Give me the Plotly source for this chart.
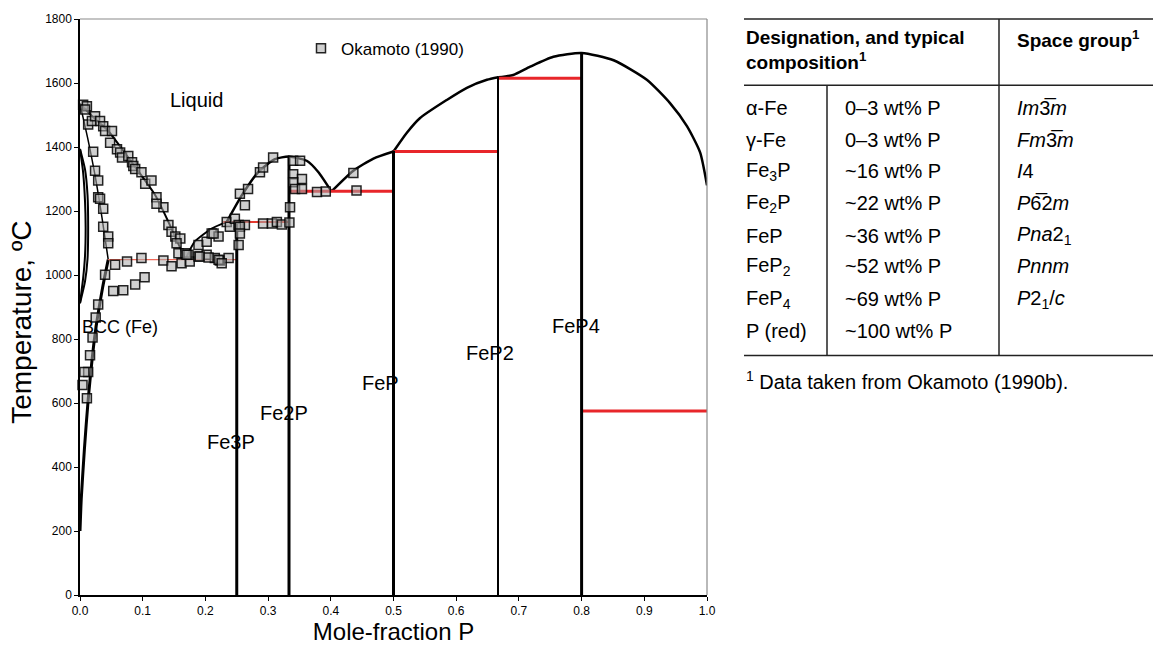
import plotly.graph_objects as go

# ---------------- phase-boundary data (mole fraction P, temperature in C) ----------------
liq_fe_x = [0.0, 0.02, 0.045, 0.0825, 0.12, 0.146, 0.168]
liq_fe_t = [1535, 1495, 1450, 1352, 1249, 1145, 1048]

liq_fe3p_x = [0.168, 0.183, 0.21, 0.234]
liq_fe3p_t = [1048, 1104, 1145, 1166]

liq_fe2p_x = [0.234, 0.258, 0.284, 0.311, 0.333, 0.3615, 0.38, 0.401]
liq_fe2p_t = [1166, 1249, 1321, 1362, 1370, 1357, 1322, 1261]

liq_fep_x = [0.401, 0.436, 0.468, 0.5]
liq_fep_t = [1261, 1326, 1364, 1386]

liq_fep2_x = [0.5, 0.521, 0.542, 0.585, 0.617, 0.649, 0.667]
liq_fep2_t = [1386, 1444, 1490, 1547, 1585, 1610, 1618]

liq_p_x = [0.667, 0.691, 0.718, 0.755, 0.8, 0.851, 0.904, 0.941, 0.968, 0.989, 1.0]
liq_p_t = [1618, 1625, 1651, 1682, 1694, 1671, 1610, 1537, 1465, 1383, 1280]

solidus_x = [0.0, 0.012, 0.024, 0.035, 0.045]
solidus_t = [1535, 1430, 1311, 1180, 1048]

solvus_x = [0.045, 0.036, 0.024, 0.013, 0.007, 0.002, 0.0]
solvus_t = [1048, 960, 815, 609, 455, 300, 200]

gamma_out_x = [0.0, 0.008, 0.012, 0.013, 0.012, 0.008, 0.0]
gamma_out_t = [1394, 1330, 1250, 1150, 1050, 980, 912]
gamma_in_x = [0.0, 0.005, 0.008, 0.009, 0.008, 0.005, 0.0]
gamma_in_t = [1394, 1320, 1230, 1150, 1060, 990, 912]

# compounds: composition and top of the vertical line
compound_x = [0.25, 1 / 3, 0.5, 2 / 3, 0.8]
compound_top = [1166, 1370, 1388, 1620, 1694]
compound_w = [3, 3, 3, 2, 3]

# invariant reactions: x-start, x-end, temperature
inv_x0 = [0.045, 0.228, 1 / 3, 0.5, 2 / 3, 0.8]
inv_x1 = [0.25, 1 / 3, 0.5, 2 / 3, 0.8, 1.0]
inv_t = [1048, 1166, 1262, 1386, 1615, 575]
inv_w = [1.3, 2, 3, 3, 3, 3]
inv_c = ["#ef6a5a", "#e43a30", "#e8262a", "#e8262a", "#e8262a", "#e8262a"]

# experimental points, Okamoto (1990)
oka_x = [0.005, 0.011, 0.008, 0.013, 0.019, 0.024, 0.032, 0.037, 0.040, 0.051, 0.048, 0.059,
         0.064, 0.067, 0.077, 0.083, 0.085, 0.088, 0.098, 0.104, 0.114, 0.122, 0.133, 0.122,
         0.141, 0.146, 0.152, 0.160, 0.154, 0.157, 0.168,
         0.021, 0.024, 0.029, 0.029, 0.032, 0.037, 0.037, 0.045, 0.045,
         0.056, 0.075, 0.098, 0.133, 0.146, 0.162, 0.175, 0.189, 0.202, 0.215, 0.223, 0.237,
         0.040, 0.053, 0.069, 0.088, 0.103, 0.029, 0.025, 0.020, 0.016, 0.013, 0.007, 0.004, 0.011,
         0.173, 0.189, 0.202, 0.210, 0.221, 0.234, 0.239, 0.247, 0.253, 0.253, 0.263, 0.255,
         0.263, 0.268, 0.287, 0.292, 0.308, 0.292, 0.306,
         0.340, 0.351, 0.340, 0.354, 0.340, 0.343, 0.354, 0.335, 0.378, 0.392, 0.436, 0.441,
         0.255, 0.255, 0.314, 0.322, 0.334, 0.213, 0.191, 0.205, 0.221, 0.226, 0.170]
oka_t = [1532, 1527, 1517, 1470, 1481, 1496, 1481, 1465, 1450, 1450, 1413, 1393,
         1383, 1367, 1372, 1352, 1341, 1331, 1321, 1285, 1295, 1243, 1212, 1223,
         1156, 1135, 1120, 1114, 1099, 1068, 1068,
         1385, 1326, 1295, 1243, 1238, 1207, 1151, 1120, 1099,
         1032, 1042, 1053, 1045, 1027, 1037, 1042, 1058, 1063, 1053, 1045, 1053,
         1001, 950, 952, 970, 993, 908, 867, 805, 749, 697, 697, 656, 615,
         1063, 1094, 1104, 1130, 1120, 1166, 1151, 1176, 1156, 1094, 1156, 1254,
         1218, 1269, 1321, 1336, 1367, 1161, 1161,
         1357, 1357, 1315, 1300, 1290, 1269, 1269, 1212, 1259, 1261, 1319, 1264,
         1151, 1130, 1166, 1158, 1164, 1130, 1058, 1055, 1048, 1037, 1063]

# phase labels
phase_names = ["Liquid", "BCC (Fe)", "Fe3P", "Fe2P", "FeP", "FeP2", "FeP4"]
phase_x = [0.185, 0.0, 0.2416, 0.326, 0.479, 0.654, 0.791]
phase_t = [1547, 838, 479, 569, 662, 756, 841]

# table of phases
designations = ["α-Fe", "γ-Fe", "Fe<sub>3</sub>P", "Fe<sub>2</sub>P", "FeP",
                "FeP<sub>2</sub>", "FeP<sub>4</sub>", "P (red)"]
compositions = ["0–3 wt% P", "0–3 wt% P", "~16 wt% P", "~22 wt% P", "~36 wt% P",
                "~52 wt% P", "~69 wt% P", "~100 wt% P"]
space_groups = ["<i>Im</i>3\u0305<i>m</i>", "<i>Fm</i>3\u0305<i>m</i>", "<i>I</i>4",
                "<i>P</i>6\u03052<i>m</i>", "<i>Pna</i>2<sub>1</sub>", "<i>Pnnm</i>",
                "<i>P</i>2<sub>1</sub>/<i>c</i>", ""]

FONT = "Arial, Liberation Sans, sans-serif"
W, H = 1153, 653
ML, MR, MT, MB = 80, 446, 15, 56


def px(X):
    return (X - ML) / (W - ML - MR)


def py(Y):
    return (H - MB - Y) / (H - MT - MB)


fig = go.Figure()

for xs, ts, w in [(liq_fe_x, liq_fe_t, 2), (liq_fe3p_x, liq_fe3p_t, 2), (liq_fe2p_x, liq_fe2p_t, 2.5),
                  (liq_fep_x, liq_fep_t, 2.5), (liq_fep2_x, liq_fep2_t, 2.5), (liq_p_x, liq_p_t, 2.5),
                  (solidus_x, solidus_t, 1.5), (solvus_x, solvus_t, 3),
                  (gamma_out_x, gamma_out_t, 2), (gamma_in_x, gamma_in_t, 2)]:
    fig.add_trace(go.Scatter(x=xs, y=ts, mode="lines",
                             line=dict(color="black", width=w, shape="spline", smoothing=0.6),
                             showlegend=False, hoverinfo="skip", cliponaxis=False))

for x0, x1, t, w, c in zip(inv_x0, inv_x1, inv_t, inv_w, inv_c):
    fig.add_trace(go.Scatter(x=[x0, x1], y=[t, t], mode="lines", line=dict(color=c, width=w),
                             showlegend=False, hoverinfo="skip"))

for cx, top, w in zip(compound_x, compound_top, compound_w):
    fig.add_trace(go.Scatter(x=[cx, cx], y=[0, top], mode="lines", line=dict(color="black", width=w),
                             showlegend=False, hoverinfo="skip"))

fig.add_trace(go.Scatter(
    x=oka_x, y=oka_t, mode="markers", name="Okamoto (1990)",
    marker=dict(symbol="square", size=9, color="rgba(170,170,170,0.55)",
                line=dict(color="rgba(0,0,0,0.85)", width=1.5)),
    cliponaxis=False))

for name, x, t in zip(phase_names, phase_x, phase_t):
    fig.add_annotation(x=x, y=t, text=name, showarrow=False,
                       xanchor="left" if name.startswith("BCC") else "center",
                       font=dict(size=18 if name.startswith("BCC") else 20, color="black", family=FONT))

# table rules
for y0, y1, x0, x1 in [(15, 15, 744, 1153), (82, 82, 744, 1153), (355, 355, 744, 1153),
                       (82, 355, 827, 827), (15, 355, 999, 999)]:
    fig.add_shape(type="line", xref="paper", yref="paper", x0=px(x0), x1=px(x1), y0=py(y0), y1=py(y1),
                  line=dict(color="#222222", width=1.5))


def table_text(txt, X, Y, bold=False, size=20):
    fig.add_annotation(xref="paper", yref="paper", x=px(X), y=py(Y), xanchor="left", yanchor="middle",
                       text=f"<b>{txt}</b>" if bold else txt, showarrow=False, align="left",
                       font=dict(size=size, family=FONT, color="black"))


table_text("Designation, and typical<br>composition<sup>1</sup>", 744, 46, bold=True, size=19)
table_text("Space group<sup>1</sup>", 1015, 35, bold=True, size=19)

row_y = [105, 137, 169, 201, 234, 265, 298, 330]
for d, c, s, yy in zip(designations, compositions, space_groups, row_y):
    for txt, xx in [(d, 744), (c, 843), (s, 1015)]:
        if txt:
            table_text(txt, xx, yy)

table_text("<sup>1</sup> Data taken from Okamoto (1990b).", 744, 380)

# plot frame: grey top and right edges
fig.add_shape(type="line", xref="paper", yref="paper", x0=0, x1=1, y0=1, y1=1,
              line=dict(color="#8a8a8a", width=1.2))
fig.add_shape(type="line", xref="paper", yref="paper", x0=1, x1=1, y0=0, y1=1,
              line=dict(color="#8a8a8a", width=1.2))

# y-axis title
fig.add_annotation(xref="paper", yref="paper", x=px(22), y=py(322), text="Temperature, ºC",
                   textangle=-90, showarrow=False, xanchor="center", yanchor="middle",
                   font=dict(size=28, family=FONT, color="black"))

fig.update_layout(
    width=W, height=H,
    margin=dict(l=ML, r=MR, t=MT, b=MB),
    paper_bgcolor="white", plot_bgcolor="white",
    font=dict(family=FONT, color="black"),
    showlegend=True,
    legend=dict(x=px(301), y=py(45), xanchor="left", yanchor="middle", bgcolor="rgba(0,0,0,0)",
                font=dict(size=17, family=FONT), itemwidth=30),
    xaxis=dict(range=[0, 1], tickvals=[i / 10 for i in range(11)], tickformat=".1f",
               showgrid=False, zeroline=False, showline=True, linecolor="black", linewidth=1.5,
               ticks="outside", ticklen=4, tickcolor="black", tickfont=dict(size=12),
               title=dict(text="Mole-fraction P", font=dict(size=24), standoff=6)),
    yaxis=dict(range=[0, 1800], tickvals=list(range(0, 1801, 200)),
               showgrid=False, zeroline=False, showline=True, linecolor="black", linewidth=1.5,
               ticks="outside", ticklen=4, tickcolor="black", tickfont=dict(size=12)),
)

fig.write_html("out.html")
